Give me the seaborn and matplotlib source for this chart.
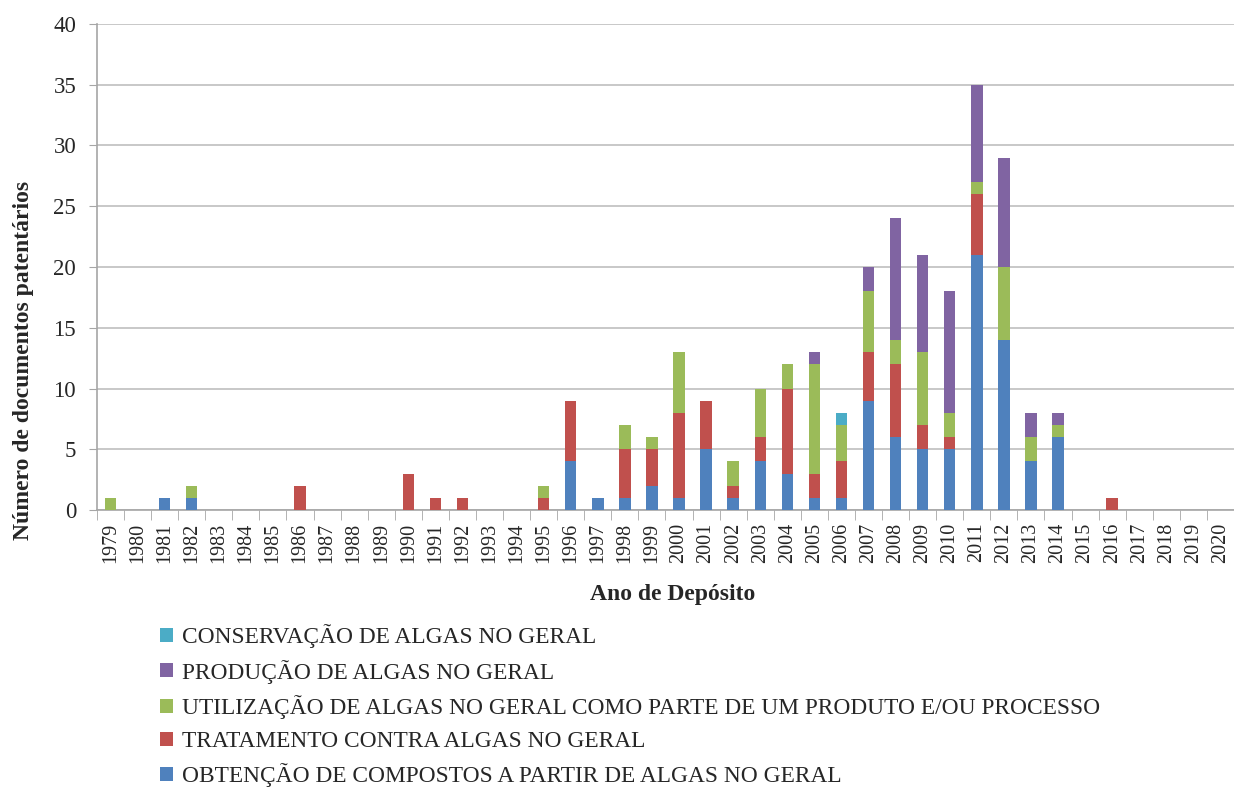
import numpy as np
import pandas as pd
import matplotlib
matplotlib.use("Agg")
import matplotlib.pyplot as plt
import seaborn as sns

# ---------------------------------------------------------
# Data
# ---------------------------------------------------------
years = [str(y) for y in range(1979, 2021)]

obtencao = {1981: 1, 1982: 1, 1996: 4, 1997: 1, 1998: 1, 1999: 2, 2000: 1, 2001: 5,
            2002: 1, 2003: 4, 2004: 3, 2005: 1, 2006: 1, 2007: 9, 2008: 6, 2009: 5,
            2010: 5, 2011: 21, 2012: 14, 2013: 4, 2014: 6}
tratamento = {1986: 2, 1990: 3, 1991: 1, 1992: 1, 1995: 1, 1996: 5, 1998: 4, 1999: 3,
              2000: 7, 2001: 4, 2002: 1, 2003: 2, 2004: 7, 2005: 2, 2006: 3, 2007: 4,
              2008: 6, 2009: 2, 2010: 1, 2011: 5, 2016: 1}
utilizacao = {1979: 1, 1982: 1, 1995: 1, 1998: 2, 1999: 1, 2000: 5, 2002: 2, 2003: 4,
              2004: 2, 2005: 9, 2006: 3, 2007: 5, 2008: 2, 2009: 6, 2010: 2, 2011: 1,
              2012: 6, 2013: 2, 2014: 1}
producao = {2005: 1, 2007: 2, 2008: 10, 2009: 8, 2010: 10, 2011: 8, 2012: 9, 2013: 2, 2014: 1}
conservacao = {2006: 1}

# stacking order, bottom to top
series_names = [
    "OBTENÇÃO DE COMPOSTOS A PARTIR DE ALGAS NO GERAL",
    "TRATAMENTO CONTRA ALGAS NO GERAL",
    "UTILIZAÇÃO DE ALGAS NO GERAL COMO PARTE DE UM PRODUTO E/OU PROCESSO",
    "PRODUÇÃO DE ALGAS NO GERAL",
    "CONSERVAÇÃO DE ALGAS NO GERAL",
]
series_values = [obtencao, tratamento, utilizacao, producao, conservacao]
series_colors = ["#4F81BD", "#C0504D", "#9BBB59", "#8064A2", "#4BACC6"]

# ---------------------------------------------------------
# Build table and cumulative sums for stacking
# ---------------------------------------------------------
df = pd.DataFrame({"Ano": years})
for name, vals in zip(series_names, series_values):
    df[name] = [vals.get(int(y), 0) for y in years]
cum = df[series_names].cumsum(axis=1)

sns.set_style("white")
plt.rcParams["font.family"] = ["Liberation Serif", "DejaVu Serif"]

fig = plt.figure(figsize=(12.34, 7.89), dpi=100)
ax = fig.add_axes([0.0786, 0.3536, 0.9214, 0.616])

# draw tallest cumulative layer first so lower layers cover it
for name, color in reversed(list(zip(series_names, series_colors))):
    sns.barplot(x=df["Ano"], y=cum[name], order=years, color=color, saturation=1,
                width=0.42, linewidth=0, errorbar=None, label=name, ax=ax, zorder=3)
if ax.get_legend() is not None:
    ax.get_legend().remove()

ax.set_xlim(-0.5, len(years) - 0.5)
ax.set_ylim(0, 40)
ax.set_yticks(np.arange(0, 41, 5))
ax.yaxis.grid(True, color="#BFBFBF", linewidth=1.2, zorder=0)
ax.set_axisbelow(True)

for side in ["top", "right"]:
    ax.spines[side].set_visible(False)
for side in ["left", "bottom"]:
    ax.spines[side].set_color("#A6A6A6")
    ax.spines[side].set_linewidth(1.2)

ax.tick_params(axis="y", labelsize=16.5, length=6, color="#A6A6A6", pad=9, left=True)
ax.tick_params(axis="x", which="major", labelsize=14.5, length=0, rotation=90, pad=9)
ax.set_xticks(np.arange(-0.5, len(years), 1), minor=True)
ax.tick_params(axis="x", which="minor", length=7, color="#A6A6A6", bottom=True)

ax.set_xlabel("Ano de Depósito", fontsize=17, fontweight="bold")
ax.xaxis.set_label_coords(0.506, -0.152)
ax.set_ylabel("Número de documentos patentários", fontsize=17, fontweight="bold")
ax.yaxis.set_label_coords(-0.055, 0.307)

handles, labels = ax.get_legend_handles_labels()
fig.legend(handles, labels, loc="upper left", bbox_to_anchor=(0.12, 0.224),
           frameon=False, fontsize=16.8, handlelength=0.55, handleheight=0.55,
           handletextpad=0.4, labelspacing=0.5, borderpad=0)

plt.savefig("out.png", dpi=100)
plt.close()
